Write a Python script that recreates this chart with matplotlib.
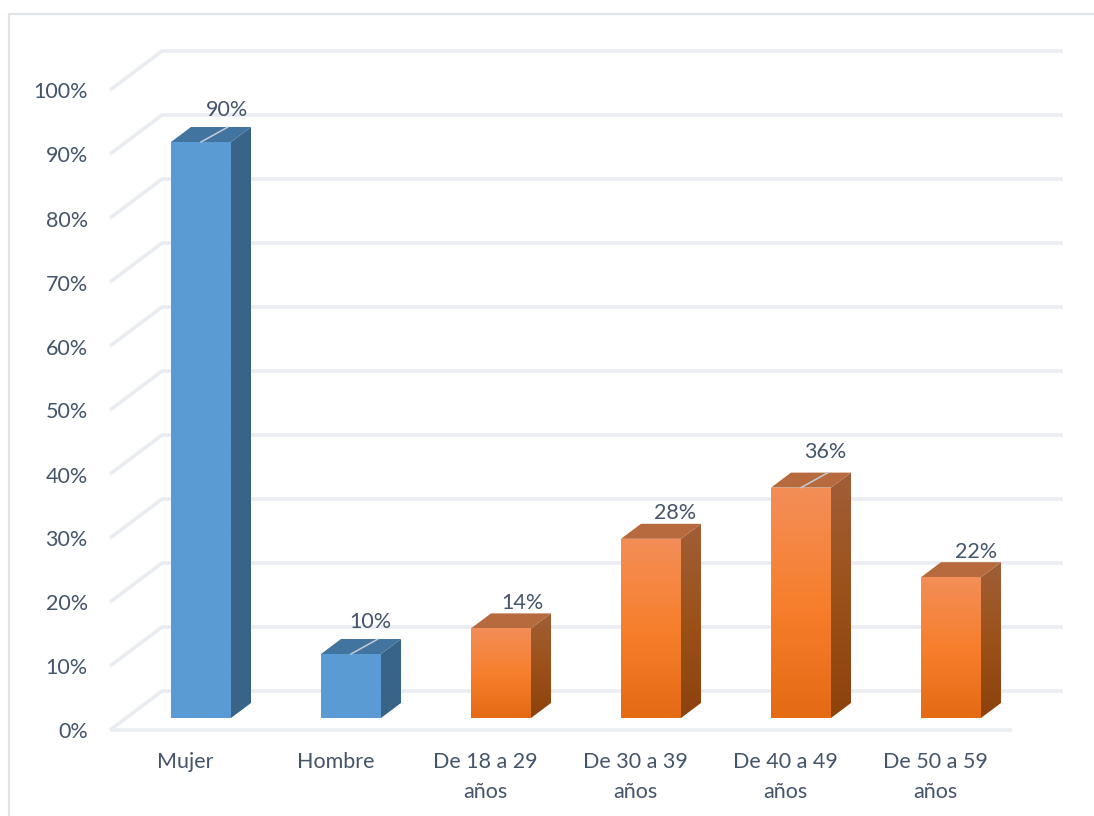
import numpy as np
import matplotlib
matplotlib.use("Agg")
import matplotlib.pyplot as plt
from matplotlib.colors import LinearSegmentedColormap
from matplotlib.lines import Line2D
from matplotlib.patches import Polygon
from matplotlib.transforms import ScaledTranslation

categories = ["Mujer", "Hombre", "De 18 a 29\naños", "De 30 a 39\naños",
              "De 40 a 49\naños", "De 50 a 59\naños"]
values = [90, 10, 14, 28, 36, 22]
y_ticks = [0, 10, 20, 30, 40, 50, 60, 70, 80, 90, 100]
y_tick_labels = ["0%", "10%", "20%", "30%", "40%", "50%", "60%", "70%", "80%", "90%", "100%"]
leader_flags = [True, True, False, False, True, False]

W, H = 1094, 816
TEXT = "#44546A"
GRID = "#E9EDF2"
FONT = "Lato"
FS = 15.5

fig = plt.figure(figsize=(W / 100, H / 100), dpi=100, facecolor="white")
# axes: x 110..1063 px, y 51..730 px
ax = fig.add_axes([110 / W, 1 - 730 / H, (1063 - 110) / W, (730 - 51) / H])
PX_X = 150.0          # pixels per category
PX_Y = 6.4            # pixels per percent
ax.set_xlim((110 - 201) / PX_X, (1063 - 201) / PX_X)
ax.set_ylim(0, (730 - 51) / PX_Y)
ax.patch.set_alpha(0)
for s in ax.spines.values():
    s.set_visible(False)

# Depth geometry, in data units
wall_dx = 52 / PX_X
wall_dy = 39 / PX_Y
x_left = ax.get_xlim()[0]
x_right = ax.get_xlim()[1]
floor_end = (1012 - 201) / PX_X
bar_half = 30 / PX_X
base_y = 12 / PX_Y
dep_x = 20 / PX_X
dep_y = 15 / PX_Y

# Gridlines: slanted side wall + back wall
for v in y_ticks:
    ax.plot([x_left, x_left + wall_dx, x_right], [v, v + wall_dy, v + wall_dy],
            color=GRID, lw=2.6, solid_joinstyle="miter", solid_capstyle="butt",
            zorder=1, clip_on=False)
ax.plot([x_left, floor_end], [0, 0], color=GRID, lw=2.6, zorder=1,
        solid_capstyle="butt", clip_on=False)

blue_front = LinearSegmentedColormap.from_list("bf", ["#5B9BD5", "#5B9BD5"])
blue_side = LinearSegmentedColormap.from_list("bs", ["#386488", "#386488"])
orange_front = LinearSegmentedColormap.from_list("of", ["#E46A14", "#F77F2D", "#F38E58"])
orange_side = LinearSegmentedColormap.from_list("os", ["#8C420C", "#9C5119", "#A05F38"])
grad = np.linspace(1, 0, 256).reshape(-1, 1)


def shade(poly, cmap, extent, z):
    im = ax.imshow(grad, cmap=cmap, extent=extent, aspect="auto", zorder=z,
                   vmin=0, vmax=1, interpolation="bilinear")
    patch = Polygon(poly, closed=True, transform=ax.transData, fc="none", ec="none")
    ax.add_patch(patch)
    im.set_clip_path(patch)


for i, v in enumerate(values):
    is_blue = i < 2
    xl, xr = i - bar_half, i + bar_half
    yb, yt = base_y, base_y + v
    front_cm = blue_front if is_blue else orange_front
    side_cm = blue_side if is_blue else orange_side
    top_c = "#4274A0" if is_blue else "#B66A3E"
    # side face
    side = [(xr, yb), (xr + dep_x, yb + dep_y), (xr + dep_x, yt + dep_y), (xr, yt)]
    shade(side, side_cm, (xr, xr + dep_x, yb, yt + dep_y), 3)
    # top face
    ax.add_patch(Polygon([(xl, yt), (xl + dep_x, yt + dep_y), (xr + dep_x, yt + dep_y), (xr, yt)],
                         closed=True, fc=top_c, ec="none", zorder=3))
    # front face
    front = [(xl, yb), (xr, yb), (xr, yt), (xl, yt)]
    shade(front, front_cm, (xl, xr, yb, yt), 4)
    if leader_flags[i]:
        ax.plot([i, i + 27 / PX_X], [yt, yt + dep_y], color="#C4CDD6", lw=1.1, zorder=5)

label_dx = [26, 19, 21, 24, 24, 25]
label_dy = [32, 32, 25, 26, 36, 25]
for i, v in enumerate(values):
    ax.annotate(f"{v}%", (i, base_y + v), xytext=(label_dx[i] * 0.72, label_dy[i] * 0.72),
                textcoords="offset points", ha="center", va="center",
                color=TEXT, fontsize=FS, family=FONT, zorder=6)

ax.set_yticks(y_ticks)
ax.set_yticklabels(y_tick_labels, fontsize=FS, color=TEXT, family=FONT)
ax.set_xticks(range(len(categories)))
ax.set_xticklabels(categories, fontsize=FS, color=TEXT, family=FONT, linespacing=1.62)
ax.tick_params(axis="y", length=0, pad=16)
ax.tick_params(axis="x", length=0, pad=16)
shift_x = ScaledTranslation(-15.5 / 100, 0, fig.dpi_scale_trans)
for lab in ax.get_xticklabels():
    lab.set_transform(lab.get_transform() + shift_x)
shift_y = ScaledTranslation(0, -0.5 / 100, fig.dpi_scale_trans)
for lab in ax.get_yticklabels():
    lab.set_transform(lab.get_transform() + shift_y)

# Chart-area border (left and top only are within frame)
border = Line2D([8.5 / W, 8.5 / W, 1.0], [0, 1 - 14 / H, 1 - 14 / H],
                transform=fig.transFigure, color="#DFE4EA", lw=1.6)
fig.add_artist(border)

ax.set_xlim(x_left, x_right)
ax.set_ylim(0, (730 - 51) / PX_Y)
fig.savefig("out.png", dpi=100)
